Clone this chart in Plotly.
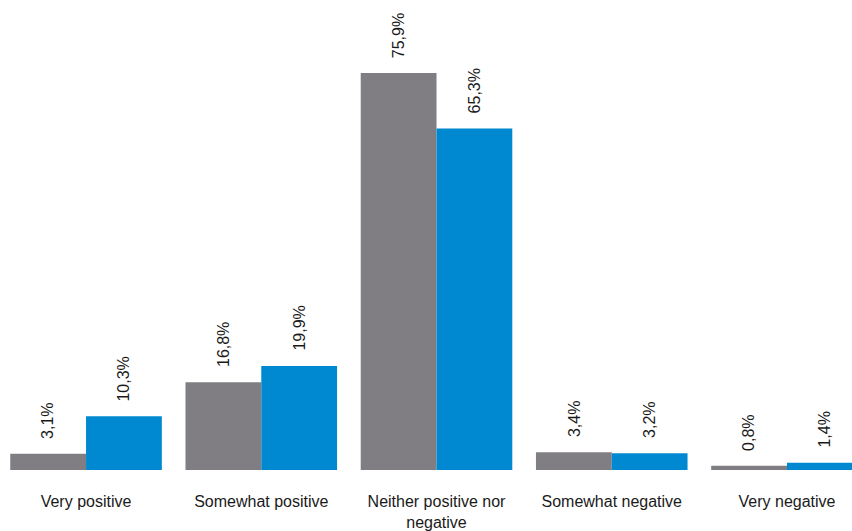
import plotly.graph_objects as go

categories = ["Very positive", "Somewhat positive", "Neither positive nor<br>negative",
              "Somewhat negative", "Very negative"]
series_a = [3.1, 16.8, 75.9, 3.4, 0.8]
series_b = [10.3, 19.9, 65.3, 3.2, 1.4]
labels_a = ["3,1%", "16,8%", "75,9%", "3,4%", "0,8%"]
labels_b = ["10,3%", "19,9%", "65,3%", "3,2%", "1,4%"]

GRAY = "#807E82"
BLUE = "#0088D1"
FONT = "Liberation Sans, Arial, sans-serif"
FS = 16

fig = go.Figure()
fig.add_trace(go.Bar(x=categories, y=series_a, marker=dict(color=GRAY, line=dict(width=0)), name="A"))
fig.add_trace(go.Bar(x=categories, y=series_b, marker=dict(color=BLUE, line=dict(width=0)), name="B"))

bargap = 0.135
off = (1 - bargap) / 4
annotations = []
for i in range(len(categories)):
    for val, lab, sgn in ((series_a[i], labels_a[i], -1), (series_b[i], labels_b[i], 1)):
        annotations.append(dict(
            x=i + sgn * off, y=val, xref="x", yref="y", text=lab, showarrow=False,
            textangle=-90, xanchor="center", yanchor="bottom", yshift=13,
            font=dict(family=FONT, size=FS, color="#1a1a1a")))

fig.update_layout(
    width=852, height=531,
    margin=dict(l=0, r=0, t=0, b=61),
    paper_bgcolor="white", plot_bgcolor="white",
    barmode="group", bargap=bargap, bargroupgap=0,
    showlegend=False,
    annotations=annotations,
    font=dict(family=FONT, size=FS, color="#1a1a1a"),
    xaxis=dict(range=[-0.491, 4.371], showgrid=False, zeroline=False, showline=False,
               ticks="", ticklabelstandoff=20, tickfont=dict(family=FONT, size=FS, color="#1a1a1a")),
    yaxis=dict(range=[0, 89.87], visible=False),
)

fig.write_html("out.html")
